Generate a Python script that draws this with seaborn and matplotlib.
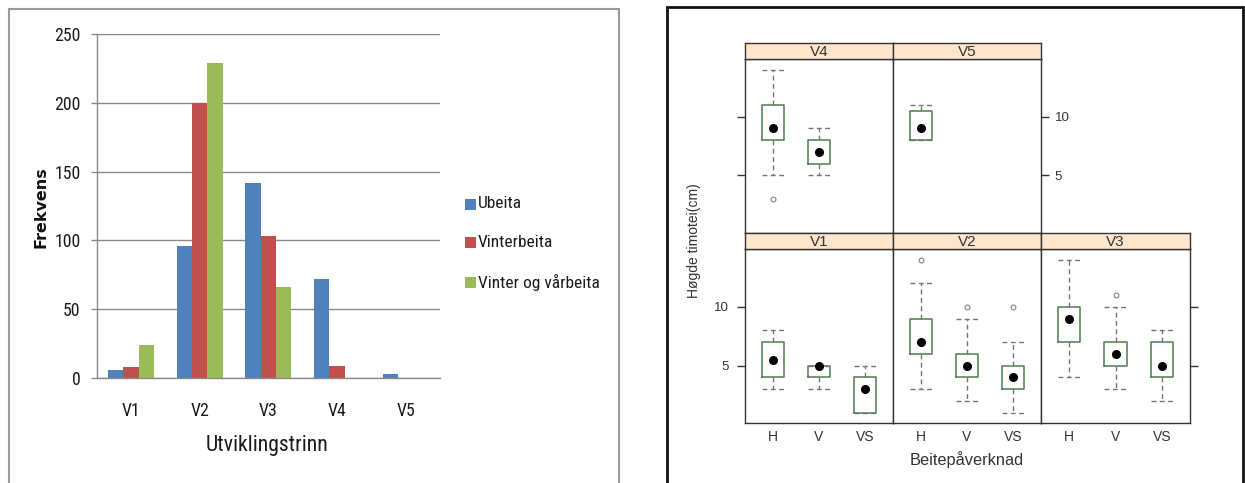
import os
import numpy as np
import pandas as pd
import matplotlib
matplotlib.use("Agg")
import matplotlib.pyplot as plt
import seaborn as sns
from matplotlib.patches import Rectangle
from matplotlib import font_manager
from matplotlib.font_manager import FontProperties
from matplotlib.textpath import TextPath

# ---------------- data: left chart (bar chart) ----------------
stages = ["V1", "V2", "V3", "V4", "V5"]
series_names = ["Ubeita", "Vinterbeita", "Vinter og vårbeita"]
ubeita = [6, 96, 142, 72, 3]
vinterbeita = [8, 200, 103, 9, 0]
vinter_og_varbeita = [24, 229, 66, 0, 0]
bar_colors = ["#4F81BD", "#C0504D", "#9BBB59"]
left_yticks = [0, 50, 100, 150, 200, 250]

# ---------------- data: right chart (box plots by stage) ----------------
panel_order = ["V4", "V5", "V1", "V2", "V3"]
treatments = ["H", "V", "VS"]
box_stage = ["V1", "V1", "V1", "V2", "V2", "V2", "V3", "V3", "V3", "V4", "V4", "V5"]
box_treat = ["H", "V", "VS", "H", "V", "VS", "H", "V", "VS", "H", "V", "H"]
box_whislo = [3, 3, 1, 3, 2, 1, 4, 3, 2, 5, 5, 8]
box_q1 = [4, 4, 1, 6, 4, 3, 7, 5, 4, 8, 6, 8]
box_med = [5.5, 5, 3, 7, 5, 4, 9, 6, 5, 9, 7, 9]
box_q3 = [7, 5, 4, 9, 6, 5, 10, 7, 7, 11, 8, 10.5]
box_whishi = [8, 5, 5, 12, 9, 7, 14, 10, 8, 14, 9, 11]
box_fliers = [[], [], [], [14], [10], [10], [], [11], [], [3], [], []]
right_yticks = [5, 10]

# ---------------- fonts ----------------
sns.set_style("white")
plt.rcParams["font.family"] = ["Liberation Sans", "DejaVu Sans"]


def find_condensed():
    bad = ("bold", "italic", "oblique", "light", "semi", "extra", "black",
           "medium", "thin", "heavy")
    ranked = []
    for f in font_manager.fontManager.ttflist:
        fn = os.path.basename(f.fname).lower()
        if not ("narrow" in fn or "condensed" in fn or "narrow" in f.name.lower()):
            continue
        if any(b in fn for b in bad):
            continue
        if "liberation" in fn:
            r = 0
        elif "roboto" in fn:
            r = 1
        elif "opensans" in fn or "open" in fn:
            r = 2
        elif "noto" in fn:
            r = 3
        else:
            r = 4
        ranked.append((r, f.fname))
    ranked.sort()
    return ranked[0][1] if ranked else None


cond_path = find_condensed()


def cond_fp():
    if cond_path:
        return FontProperties(fname=cond_path)
    return FontProperties(family="Liberation Sans")


def fit_size(text, target_px):
    w = TextPath((0, 0), text, size=10, prop=cond_fp()).get_extents().width
    return 10 * target_px / (w * 100 / 72)


tick_size = fit_size("250", 24.5)
legend_size = fit_size("Vinter og vårbeita", 120)
xtitle_size = fit_size("Utviklingstrinn", 120)

W, H = 1245, 483
fig = plt.figure(figsize=(W / 100, H / 100), dpi=100)
fig.patch.set_facecolor("white")


def axes_px(l, t, r, b, **kw):
    return fig.add_axes([l / W, 1 - b / H, (r - l) / W, (b - t) / H], **kw)


# ---------------- frames ----------------
fig.patches.append(Rectangle((9 / W, -0.05), (619 - 9) / W, 1.05 - 9 / H,
                             transform=fig.transFigure, fill=False,
                             edgecolor="#9a9a9a", lw=1.5, zorder=0))
fig.patches.append(Rectangle((667 / W, -0.05), (1243 - 667) / W, 1.05 - 7 / H,
                             transform=fig.transFigure, fill=False,
                             edgecolor="#111111", lw=2.0, zorder=0))

# ---------------- left chart ----------------
df = pd.DataFrame({
    "stage": stages * 3,
    "series": [series_names[0]] * 5 + [series_names[1]] * 5 + [series_names[2]] * 5,
    "value": ubeita + vinterbeita + vinter_og_varbeita,
})
axL = axes_px(96.6, 34, 440, 378)
sns.barplot(data=df, x="stage", y="value", hue="series", order=stages,
            hue_order=series_names, palette=bar_colors, saturation=1,
            width=0.667, errorbar=None, linewidth=0, legend=False, ax=axL)
axL.set_ylim(0, 250)
axL.set_xlim(-0.5, 4.5)
axL.set_yticks(left_yticks)
axL.set_yticklabels([str(v) for v in left_yticks])
axL.set_xticks(range(len(stages)))
axL.set_xticklabels(stages)
for lab in axL.get_yticklabels() + axL.get_xticklabels():
    lab.set_fontproperties(cond_fp())
    lab.set_fontsize(tick_size)
    lab.set_color("#1a1a1a")
axL.set_xlabel("")
axL.set_ylabel("")
axL.yaxis.grid(True, color="#8a8a8a", lw=1)
axL.set_axisbelow(True)
for s in ["top", "right"]:
    axL.spines[s].set_visible(False)
for s in ["left", "bottom"]:
    axL.spines[s].set_color("#8a8a8a")
    axL.spines[s].set_linewidth(1)
axL.tick_params(axis="y", length=4.5, width=1, color="#8a8a8a", pad=7, left=True)
axL.tick_params(axis="x", length=0, pad=17)

fig.text(267 / W, 1 - 445 / H, "Utviklingstrinn", fontproperties=cond_fp(),
         fontsize=xtitle_size, ha="center", va="center", color="#1a1a1a")
fig.text(41 / W, 1 - 207 / H, "Frekvens", fontsize=11.5, fontweight="bold",
         family="DejaVu Sans", rotation=90, ha="center", va="center", color="#111111")

# legend (drawn by hand to match spacing)
legend_rows_y = [204, 243, 282]
for name, col, yy in zip(series_names, bar_colors, legend_rows_y):
    fig.patches.append(Rectangle((465 / W, 1 - (yy + 5.5) / H), 11 / W, 11 / H,
                                 transform=fig.transFigure, facecolor=col,
                                 edgecolor="none"))
    fig.text(478 / W, 1 - yy / H, name, fontproperties=cond_fp(),
             fontsize=legend_size, ha="left", va="center", color="#1a1a1a")

# ---------------- right chart (lattice-like panels) ----------------
col_edges = [745, 893, 1041, 1190]
rows = {"top": (42.7, 59.3, 232.7), "bottom": (233.3, 249.3, 423.3)}
panel_pos = {"V4": ("top", 0), "V5": ("top", 1),
             "V1": ("bottom", 0), "V2": ("bottom", 1), "V3": ("bottom", 2)}
txt_col = "#333333"
line_col = "#333333"
box_col = "#4d7d4d"
whisk_col = "#6f786f"
rfam = ["Liberation Sans", "DejaVu Sans"]

for stage in panel_order:
    row, ci = panel_pos[stage]
    st, pt, pb = rows[row]
    l, r = col_edges[ci], col_edges[ci + 1]
    ax = axes_px(l, pt, r, pb)
    ax.set_facecolor("white")
    idx = [i for i, s in enumerate(box_stage) if s == stage]
    stats, pos = [], []
    for i in idx:
        stats.append(dict(med=box_med[i], q1=box_q1[i], q3=box_q3[i],
                          whislo=box_whislo[i], whishi=box_whishi[i],
                          fliers=box_fliers[i]))
        pos.append(treatments.index(box_treat[i]) + 1)
    ax.bxp(stats, positions=pos, widths=0.48, capwidths=0.48, showcaps=True,
           showfliers=True, manage_ticks=False,
           boxprops=dict(color=box_col, lw=1.1),
           whiskerprops=dict(color=whisk_col, lw=1.0, ls=(0, (3.5, 2.5))),
           capprops=dict(color=whisk_col, lw=1.0, ls=(0, (3.5, 2.5))),
           medianprops=dict(lw=0),
           flierprops=dict(marker="o", markersize=3.5, markerfacecolor="none",
                           markeredgecolor="#7d8a7d", markeredgewidth=0.8))
    ax.plot(pos, [box_med[i] for i in idx], "o", color="black", ms=5.5, zorder=5)
    ax.set_xlim(0.4, 3.6)
    ax.set_ylim(0.09, 14.91)
    for s in ax.spines.values():
        s.set_color(line_col)
        s.set_linewidth(1.0)
    ax.set_yticks(right_yticks)
    if stage == "V4":
        ax.tick_params(axis="y", left=True, right=False, labelleft=False,
                       length=5.5, width=1, color=line_col, direction="out")
    elif stage == "V5":
        ax.tick_params(axis="y", left=False, right=True, labelleft=False,
                       labelright=True, length=5.5, width=1, color=line_col,
                       direction="out", pad=4.5, labelsize=9.5, labelcolor=txt_col)
    elif stage == "V1":
        ax.tick_params(axis="y", left=True, right=False, labelleft=True,
                       length=5.5, width=1, color=line_col, direction="out",
                       pad=6, labelsize=9.5, labelcolor=txt_col)
    elif stage == "V3":
        ax.tick_params(axis="y", left=False, right=True, labelleft=False,
                       labelright=False, length=5.5, width=1, color=line_col,
                       direction="out")
    else:
        ax.tick_params(axis="y", left=False, right=False, labelleft=False)
    ax.set_xticks([1, 2, 3])
    if row == "bottom":
        ax.set_xticklabels(treatments, fontsize=10, color=txt_col, family=rfam)
        ax.tick_params(axis="x", length=0, pad=5)
    else:
        ax.tick_params(axis="x", length=0, labelbottom=False)
    for lab in ax.get_yticklabels():
        lab.set_family(rfam)
    sax = axes_px(l, st, r, pt)
    sax.set_facecolor("#FFE5CC")
    sax.set_xticks([])
    sax.set_yticks([])
    for s in sax.spines.values():
        s.set_color(line_col)
        s.set_linewidth(1.0)
    sax.text(0.5, 0.45, stage, transform=sax.transAxes, ha="center", va="center",
             fontsize=11, color=txt_col, family=rfam)

fig.text(694 / W, 1 - 241 / H, "Høgde timotei(cm)", rotation=90, ha="center",
         va="center", fontsize=10, color=txt_col, family=rfam)
fig.text(967 / W, 1 - 460 / H, "Beitepåverknad", ha="center", va="center",
         fontsize=11.8, color=txt_col, family=rfam)

fig.savefig("out.png", dpi=100, facecolor="white")
